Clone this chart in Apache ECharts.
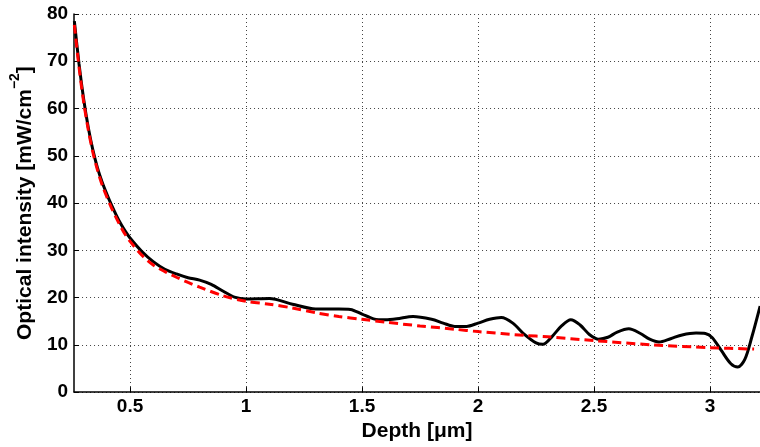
<!DOCTYPE html>
<html><head><meta charset="utf-8">
<script src="https://cdn.jsdelivr.net/npm/echarts@6/dist/echarts.min.js"></script>
<style>html,body{margin:0;padding:0;background:#fff}#c{width:760px;height:447px}</style>
</head><body><div id="c"></div>
<script>
const measuredX = [0.26,0.28,0.30,0.32,0.34,0.36,0.38,0.40,0.42,0.44,0.46,0.48,0.50,0.55,0.60,0.65,0.70,0.75,0.80,0.85,0.90,0.95,1.00,1.10,1.20,1.30,1.40,1.45,1.50,1.55,1.60,1.65,1.72,1.80,1.85,1.90,1.95,2.00,2.05,2.10,2.15,2.20,2.25,2.28,2.32,2.36,2.40,2.44,2.48,2.52,2.56,2.60,2.65,2.70,2.74,2.78,2.83,2.88,2.94,2.98,3.01,3.05,3.09,3.12,3.15,3.18,3.216];
const measuredY = [78.5,69.5,62,56,51.2,47.4,44.4,41.9,39.6,37.5,35.6,34.0,32.6,29.8,27.6,26,25,24.2,23.7,22.8,21.4,20.1,19.7,19.8,18.6,17.6,17.6,17.5,16.5,15.5,15.3,15.5,16.0,15.4,14.6,13.9,13.9,14.6,15.4,15.8,14.6,12.2,10.4,10.1,11.8,14.0,15.3,14.2,12.2,11.2,11.6,12.7,13.4,12.4,11.2,10.6,11.3,12.1,12.5,12.4,11.5,8.7,6.0,5.3,6.9,11.6,18.2];
const modelX = [0.26,0.28,0.30,0.32,0.34,0.36,0.38,0.40,0.42,0.44,0.46,0.48,0.50,0.55,0.60,0.65,0.70,0.75,0.80,0.90,1.00,1.10,1.20,1.30,1.40,1.50,1.60,1.75,1.90,2.00,2.20,2.30,2.50,2.75,3.00,3.19];
const modelY = [77.7,68.8,61.4,55.5,50.7,46.9,43.8,41.3,39.0,36.9,35.0,33.3,31.9,29.0,26.9,25.5,24.3,23.2,22.2,20.4,19.2,18.6,17.8,16.8,16.0,15.4,14.8,14.0,13.3,12.8,12.0,11.7,10.9,10.0,9.4,9.1];
const xTicks = [0.5,1,1.5,2,2.5,3];
const yTicks = [0,10,20,30,40,50,60,70,80];

const zip = (a,b)=>a.map((v,i)=>[v,b[i]]);
const font = '"Liberation Sans", Arial, Helvetica, sans-serif';
const grid = {type:[1,3], color:'#444', width:1};
const chart = echarts.init(document.getElementById('c'));
chart.setOption({
  animation:false,
  grid:{left:74,right:0,top:14,bottom:52,containLabel:false},
  xAxis:{
    type:'value', min:0.2586, max:3.2155,
    name:'Depth [μm]', nameLocation:'middle', nameGap:22,
    nameTextStyle:{fontFamily:font,fontWeight:'bold',fontSize:21,color:'#000'},
    axisLine:{show:true,onZero:false,lineStyle:{color:'#000',width:1.5}},
    axisTick:{show:true,inside:true,length:5,customValues:xTicks,lineStyle:{color:'#000'}},
    axisLabel:{customValues:xTicks,fontFamily:font,fontWeight:'bold',fontSize:19,color:'#000',margin:5,formatter:v=>String(v)},
    splitLine:{show:true,lineStyle:grid}
  },
  yAxis:{
    type:'value', min:0, max:80, interval:10,
    name:'{a|Optical intensity [mW/cm}{s|−2}{a|]}', nameLocation:'middle', nameGap:30,
    nameTextStyle:{fontFamily:font,fontWeight:'bold',fontSize:21,color:'#000',
      rich:{a:{fontFamily:font,fontWeight:'bold',fontSize:21,color:'#000',lineHeight:28,verticalAlign:'bottom'},
            s:{fontFamily:font,fontWeight:'bold',fontSize:14,color:'#000',lineHeight:28,verticalAlign:'top'}}},
    axisLine:{show:true,lineStyle:{color:'#000',width:1.5}},
    axisTick:{show:true,inside:true,length:5,lineStyle:{color:'#000'}},
    axisLabel:{fontFamily:font,fontWeight:'bold',fontSize:19,color:'#000',margin:6},
    splitLine:{show:true,lineStyle:grid}
  },
  series:[
    {type:'line',data:zip(measuredX,measuredY),showSymbol:false,smooth:0.3,
     lineStyle:{color:'#000',width:3},z:2},
    {type:'line',data:zip(modelX,modelY),showSymbol:false,smooth:0.3,
     lineStyle:{color:'#ff0000',width:3,type:[9,5]},z:3}
  ]
});
</script></body></html>
